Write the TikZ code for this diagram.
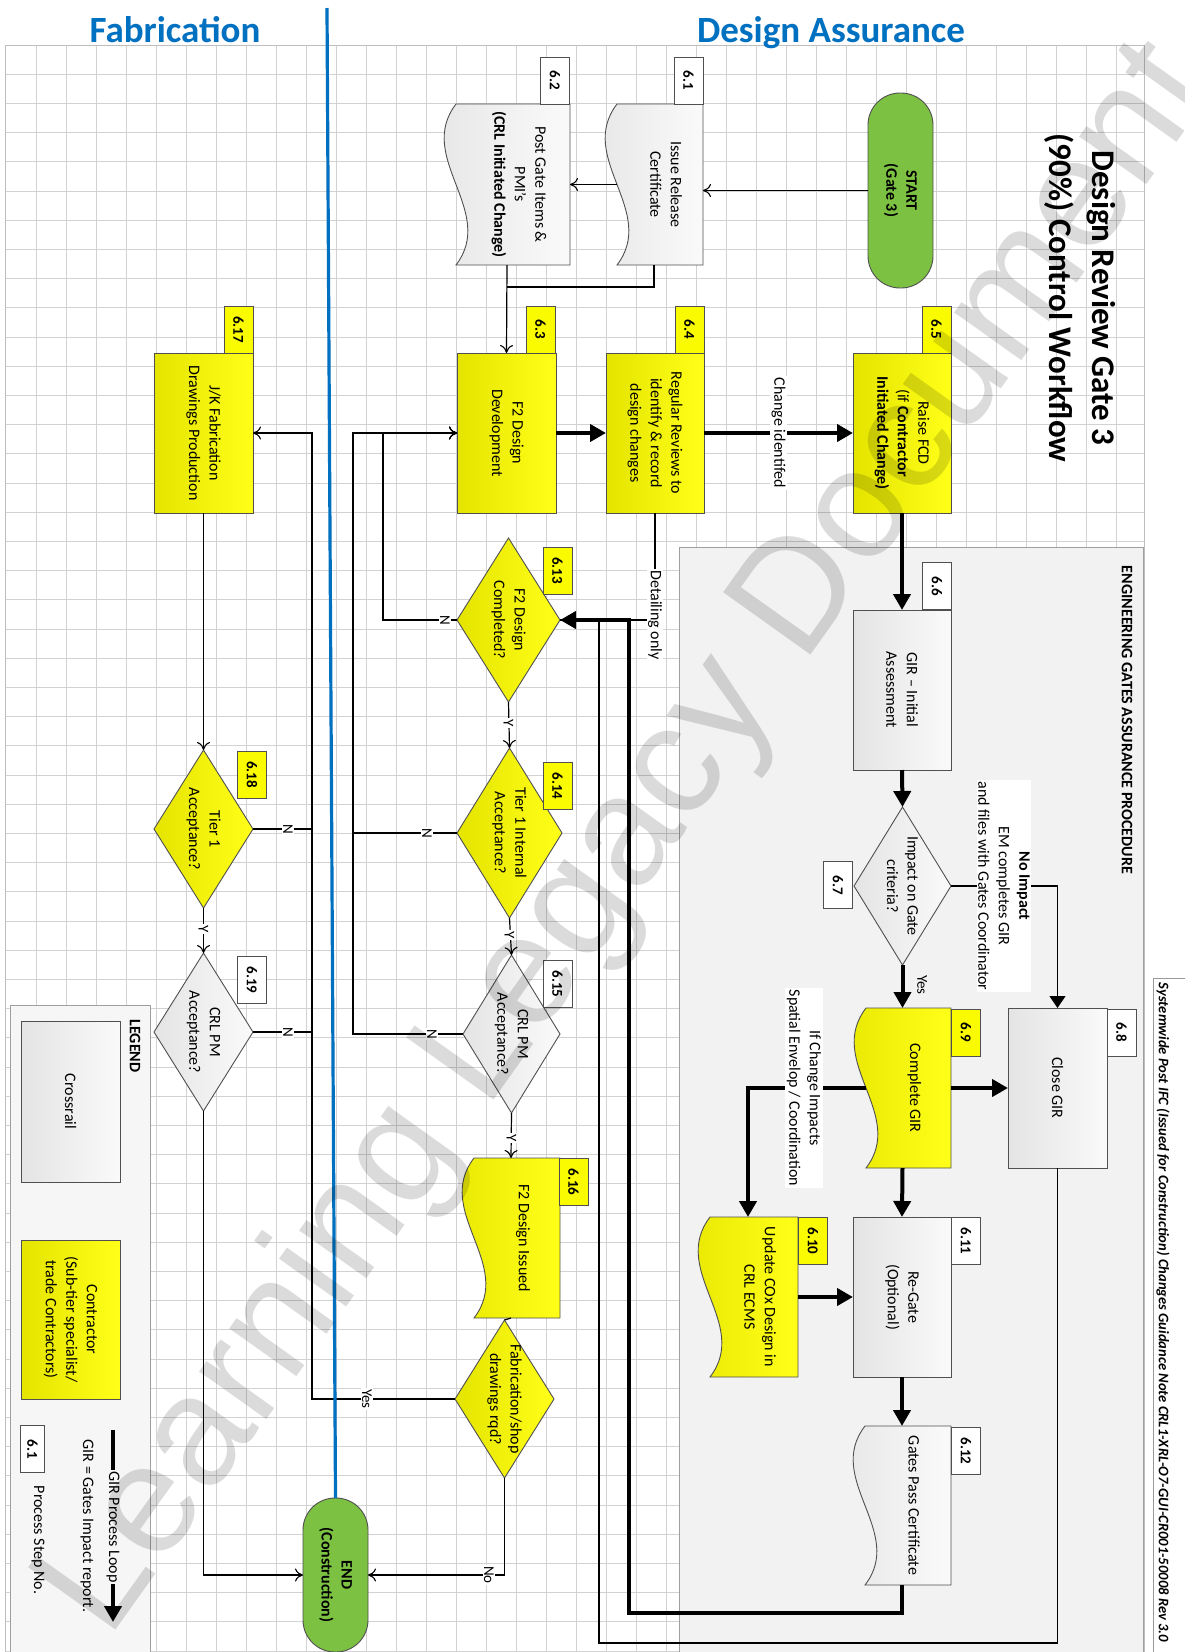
\documentclass[tikz,border=0pt]{standalone}
\usepackage{graphicx}
\usepackage{fontspec}
\setmainfont{Carlito}
\newfontfamily\wmfont{Liberation Sans}
\usetikzlibrary{arrows.meta,shapes.geometric,calc}
\definecolor{ylA}{RGB}{228,228,0}
\definecolor{ylB}{RGB}{255,255,24}
\definecolor{ylT}{RGB}{250,250,0}
\definecolor{gyA}{RGB}{228,228,228}
\definecolor{gyB}{RGB}{250,250,250}
\definecolor{grn}{RGB}{124,193,66}
\definecolor{ttl}{RGB}{0,112,192}
\definecolor{gridc}{RGB}{210,210,210}
\definecolor{gridB}{RGB}{190,190,190}
\definecolor{bord}{RGB}{80,80,80}
\definecolor{engbg}{RGB}{242,242,242}
\definecolor{legbg}{RGB}{246,246,246}
\newcommand\docwave[2]{\path[#2] let \p1=(#1.north west), \p2=(#1.south east), \n1={(\y1-\y2)/3} in
  (\x1+12pt,\y1) -- (\x2,\y1) -- (\x2,\y2) -- (\x1+12pt,\y2) .. controls (\x1+53pt,\y2+\n1) and (\x1-29pt,\y2+2*\n1) .. cycle;}
\begin{document}
\begin{tikzpicture}[x=1pt,y=-1pt,
  every node/.style={inner sep=0pt,outer sep=0pt},
  shp/.style={draw=bord,line width=0.9pt},
  ysh/.style={shp,left color=ylA,right color=ylB},
  gsh/.style={shp,left color=gyA,right color=gyB},
  bx/.style 2 args={rectangle,minimum width=#1pt,minimum height=#2pt},
  dm/.style 2 args={diamond,minimum width=#1pt,minimum height=#2pt},
  tabY/.style={shp,fill=ylT,rectangle,rotate=-90,minimum width=47pt,minimum height=29pt,font=\bfseries\fontsize{15}{18}\selectfont},
  tabW/.style={tabY,fill=white},
  tx/.style={rotate=-90,align=center,font=\fontsize{16}{20.5}\selectfont},
  lb/.style={rotate=-90,align=center,font=\fontsize{15}{19}\selectfont,fill=white,inner sep=1.5pt},
  thn/.style={draw=black,line width=1.2pt},
  tha/.style={thn,-{Computer Modern Rightarrow[length=8pt,width=13pt,line width=1.1pt]}},
  thf/.style={thn,-{Triangle[length=12pt,width=16pt]}},
  thk/.style={draw=black,line width=4pt,-{Triangle[length=16pt,width=17pt]}},
  term/.style={shp,fill=grn,rectangle,rounded corners=32pt}
]
\useasboundingbox (0,0) rectangle (1184,1652);
\fill[white] (0,0) rectangle (1184,1652);
% grid
\foreach \i in {1,...,37} \draw[draw=gridc,line width=0.8pt] ({6.2+30*\i},45) -- ({6.2+30*\i},1652);
\foreach \j in {1,...,55} \draw[draw=gridc,line width=0.8pt] (5.7,{45+29.2*\j}) -- (1144,{45+29.2*\j});
\draw[draw=gridB,line width=1pt] (5.7,45) rectangle (1144,1670);
% titles
\node[anchor=base,font=\bfseries\fontsize{37}{40}\selectfont,text=ttl] (tfab) at (175,42.7) {Fabrication};
\node[anchor=base,font=\bfseries\fontsize{37}{40}\selectfont,text=ttl] (tda) at (831,42.7) {Design Assurance};
\node[rotate=-90,align=center,font=\bfseries\fontsize{33}{43}\selectfont] (title) at (1080,298) {Design Review Gate 3\\(90\%) Control Workflow};
% containers
\node[draw=gray!75,line width=1pt,fill=engbg,bx={464}{1110}] (eng) at (911,1102) {};
\node[rotate=-90,font=\bfseries\fontsize{16}{18}\selectfont] (engt) at (1127,720) {ENGINEERING GATES ASSURANCE PROCEDURE};
\node[draw=gray!75,line width=1pt,fill=legbg,bx={140}{660}] (leg) at (80,1335) {};
\node[draw=gray!80,line width=1pt,fill=white,bx={40}{690}] (hdrbox) at (1173,1323) {};
\node[rotate=-90,font=\bfseries\itshape] (hdr) at (1163,1312.5) {\resizebox{659pt}{!}{Systemwide Post IFC (Issued for Construction) Changes Guidance Note CRL1-XRL-O7-GUI-CR001-50008 Rev 3.0}};
% rectangles
\node[ysh,bx={99}{160}] (n63) at (506.5,433) {};
\node[ysh,bx={98}{160}] (n64) at (655,433) {};
\node[ysh,bx={98}{160}] (n65) at (902,433) {};
\node[ysh,bx={99}{160}] (n617) at (203.5,433) {};
\node[gsh,bx={98}{160}] (n66) at (902,690) {};
\node[gsh,bx={99}{160}] (n68) at (1057.5,1088) {};
\node[gsh,bx={98}{160}] (n611) at (902,1297) {};
\node[gsh,bx={99}{161}] (ncr) at (70.5,1101.5) {};
\node[ysh,bx={99}{159}] (nco) at (70.5,1319.5) {};
% documents
\node[bx={98}{161}] (n61) at (654,184.5) {};
\node[bx={126}{161}] (n62) at (507,184.5) {};
\node[bx={97}{160}] (n69) at (902.5,1088) {};
\node[bx={100}{160}] (n610) at (748,1297) {};
\node[bx={98}{159}] (n612) at (902,1505.5) {};
\node[bx={98}{160}] (n616) at (511,1238) {};
\docwave{n61}{gsh}
\docwave{n62}{gsh}
\docwave{n69}{ysh}
\docwave{n610}{ysh}
\docwave{n612}{gsh}
\docwave{n616}{ysh}
% diamonds
\node[ysh,dm={103}{164}] (n613) at (508.5,620) {};
\node[ysh,dm={105}{170}] (n614) at (509.5,833) {};
\node[gsh,dm={97}{158}] (n615) at (511.5,1034) {};
\node[ysh,dm={99}{158}] (nfab) at (504.5,1399) {};
\node[gsh,dm={97}{158}] (n67) at (902.5,886) {};
\node[ysh,dm={99}{158}] (n618) at (203.5,829) {};
\node[gsh,dm={99}{158}] (n619) at (203.5,1032) {};
% terminals
\node[term,bx={65}{195}] (start) at (900.5,190.5) {};
\node[term,bx={65}{154}] (endn) at (335.5,1575) {};
% tabs
\node[tabW] (k61) at (688.5,80.5) {6.1};
\node[tabW] (k62) at (555,80.5) {6.2};
\node[tabY] (k63) at (540.5,329.5) {6.3};
\node[tabY] (k64) at (689.5,329.5) {6.4};
\node[tabY] (k65) at (936.5,329.5) {6.5};
\node[tabY] (k617) at (238.5,329.5) {6.17};
\node[tabW] (k66) at (937,586) {6.6};
\node[tabW] (k67) at (838,885) {6.7};
\node[tabW] (k68) at (1121.5,1032.5) {6.8};
\node[tabY] (k69) at (966,1032.5) {6.9};
\node[tabY] (k610) at (813,1241) {6.10};
\node[tabW] (k611) at (966,1241) {6.11};
\node[tabW] (k612) at (966,1451) {6.12};
\node[tabY] (k613) at (557.5,570.5) {6.13};
\node[tabY] (k614) at (557.5,786) {6.14};
\node[tabW] (k615) at (557.5,984) {6.15};
\node[tabY] (k616) at (573.5,1182) {6.16};
\node[tabY] (k618) at (252,774.5) {6.18};
\node[tabW] (k619) at (252,980) {6.19};
\node[tabW,minimum height=24pt] (kleg) at (32.5,1449) {6.1};
% shape texts
\node[tx,font=\bfseries\fontsize{16}{20}\selectfont] (startt) at (start) {START\\(Gate 3)};
\node[tx,font=\bfseries\fontsize{16}{20}\selectfont] (endt) at (endn) {END\\(Construction)};
\node[tx] (n61t) at ([xshift=12pt]n61.center) {Issue Release\\Certificate};
\node[tx] (n62t) at ([xshift=12pt]n62.center) {Post Gate Items \&\\PMI’s\\\textbf{(CRL Initiated Change)}};
\node[tx] (n63t) at (n63) {F2 Design\\Development};
\node[tx] (n64t) at (n64) {Regular Reviews to\\identify \& record\\design changes};
\node[tx] (n65t) at (n65) {Raise FCD\\(if \textbf{Contractor}\\\textbf{Initiated Change)}};
\node[tx] (n66t) at (n66) {GIR – Initial\\Assessment};
\node[tx] (n67t) at (n67) {Impact on Gate\\criteria?};
\node[tx] (n68t) at (n68) {Close GIR};
\node[tx] (n69t) at ([xshift=12pt]n69.center) {Complete GIR};
\node[tx] (n610t) at ([xshift=12pt]n610.center) {Update COx Design in\\CRL ECMS};
\node[tx] (n611t) at (n611) {Re-Gate\\(Optional)};
\node[tx] (n612t) at ([xshift=12pt]n612.center) {Gates Pass Certificate};
\node[tx] (n613t) at (n613) {F2 Design\\Completed?};
\node[tx] (n614t) at (n614) {Tier 1 Internal\\Acceptance?};
\node[tx] (n615t) at (n615) {CRL PM\\Acceptance?};
\node[tx] (n616t) at ([xshift=12pt]n616.center) {F2 Design Issued};
\node[tx] (nfabt) at (nfab) {Fabrication/shop\\drawings rqd?};
\node[tx] (n617t) at (n617) {J/K Fabrication\\Drawings Production};
\node[tx] (n618t) at (n618) {Tier 1\\Acceptance?};
\node[tx] (n619t) at (n619) {CRL PM\\Acceptance?};
\node[tx] (ncrt) at (ncr) {Crossrail};
\node[tx] (ncot) at (nco) {Contractor\\(Sub-tier specialist/\\trade Contractors)};
\node[tx,font=\bfseries\fontsize{16}{20}\selectfont] (legt) at (135,1046) {LEGEND};
\node[tx] (gird) at (87,1526) {GIR = Gates Impact report.};
\node[tx] (psn) at (38,1540) {Process Step No.};
% coordinates
\coordinate (j1) at (507,287);
\coordinate (c612) at (629,1613);
\coordinate (c68) at (599,1643);
\coordinate (xa) at (383,0);
\coordinate (xb) at (353,0);
\coordinate (xc) at (312,0);
\coordinate (bt) at (327,8);
\coordinate (lg1) at (113,1430);
\coordinate (lg2) at (113,1622);
% thin connectors
\draw[tha] (start.west) -- (start.west -| n61.east);
\draw[tha] ([xshift=12pt]n61.west) -- (n62.east);
\draw[thn] (n61.south) |- (j1);
\draw[tha] (n62.south) -- (n63.north);
\draw[thn] (n64.south) |- (n613.east);
\draw[thn] (n68.south) |- (c68) |- (n613.east);
\draw[thf] (n67.east) -| (n68.north);
\draw[tha] (n613.south) -- (n614.north);
\draw[tha] (n614.south) -- (n615.north);
\draw[tha] (n615.south) -- (n616.north);
\draw[tha] (n613.west) -| (n63.west -| xa) -- (n63.west);
\draw[tha] (n614.west) -| (n63.west -| xb) -- (n63.west);
\draw[tha] (n615.west) -| (n63.west -| xb) -- (n63.west);
\draw[thn] (n616.south) -- (nfab.north);
\draw[tha] (nfab.west) -| (n617.east -| xc) -- (n617.east);
\draw[tha] (nfab.south) |- (endn.east);
\draw[tha] (n617.south) -- (n618.north);
\draw[thn] (n618.east) -- (n618.east -| xc);
\draw[tha] (n618.south) -- (n619.north);
\draw[thn] (n619.east) -- (n619.east -| xc);
\draw[tha] (n619.south) |- (endn.west);
% thick connectors
\draw[thk] (n63.east) -- (n64.west);
\draw[thk] (n64.east) -- (n65.west);
\draw[thk] (n65.south) -- (n66.north);
\draw[thk] (n66.south) -- (n67.north);
\draw[thk] (n67.south) -- (n69.north);
\draw[thk] (n69.east) -- (n68.west);
\draw[thk] (n69.south) -- (n611.north);
\draw[thk] ([xshift=12pt]n69.west) -| (n610.north);
\draw[thk] (n610.east) -- (n611.west);
\draw[thk] (n611.south) -- (n612.north);
\draw[thk] (n612.south) |- (c612) |- (n613.east);
\draw[thk] (lg1) -- (lg2);
% blue divider
\draw[draw=ttl,line width=3.2pt] (bt) -- (endn.north);
% labels
\node[lb,font=\fontsize{16}{20}\selectfont] (lchg) at (778.5,433) {Change identifed};
\node[lb,font=\fontsize{16}{20}\selectfont] (ldet) at (655,615) {Detailing only};
\node[lb,font=\fontsize{16}{20.5}\selectfont] (lnoi) at (1004,886) {\textbf{No Impact}\\EM completes GIR\\and files with Gates Coordinator};
\node[lb,font=\fontsize{16}{20.5}\selectfont] (lifc) at (804,1088) {If Change Impacts\\Spatial Envelop / Coordination};
\node[lb,fill=none] (lyes1) at (922,985) {Yes};
\node[lb] (lN13) at (445,620) {N};
\node[lb] (lN14) at (427,833) {N};
\node[lb] (lN15) at (432,1034) {N};
\node[lb] (lN18) at (288,829) {N};
\node[lb] (lN19) at (288,1032) {N};
\node[lb] (lY13) at (508.5,723) {Y};
\node[lb] (lY14) at (509.5,935) {Y};
\node[lb] (lY15) at (511.5,1138) {Y};
\node[lb] (lY18) at (203.5,929) {Y};
\node[lb] (lyes2) at (367,1399) {Yes};
\node[lb] (lno) at (489,1575) {No};
\node[lb,fill=legbg,font=\fontsize{16}{20}\selectfont] (lgl) at (113,1527) {GIR Process Loop};
% watermark
\node[rotate=54.5,text=black,text opacity=0.14,font=\wmfont\fontsize{156}{156}\selectfont] (wm) at (630,840) {Learning Legacy Document};
\end{tikzpicture}
\end{document}
